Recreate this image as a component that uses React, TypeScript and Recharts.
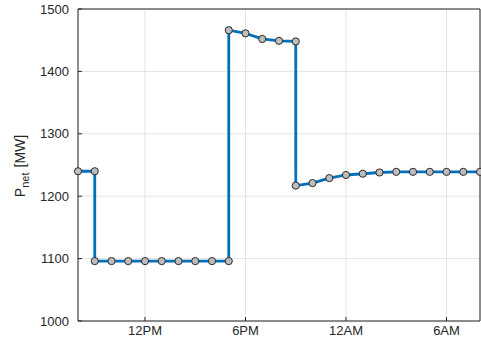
import {
  LineChart,
  Line,
  XAxis,
  YAxis,
  CartesianGrid,
  ReferenceLine,
} from "recharts";

// hours since midnight of day 1 (8 = 8AM, 32 = 8AM next day); repeated hours are the steps
const hours = [
  8, 9, 9, 10, 11, 12, 13, 14, 15, 16, 17, 17, 18, 19, 20, 21, 21, 22, 23, 24,
  25, 26, 27, 28, 29, 30, 31, 32,
];
const pnet = [
  1240, 1240, 1096, 1096, 1096, 1096, 1096, 1096, 1096, 1096, 1096, 1466, 1461,
  1452, 1449, 1448, 1217, 1221, 1229, 1234, 1236, 1238, 1239, 1239, 1239, 1239,
  1239, 1239,
];

const xTicks = [12, 18, 24, 30];
const xTickLabels = ["12PM", "6PM", "12AM", "6AM"];
const yTicks = [1000, 1100, 1200, 1300, 1400, 1500];

const data = hours.map((h, i) => ({ h, p: pnet[i] }));

const font = "'Liberation Sans', Arial, sans-serif";
const axisColor = "#262626";

const YLabel = () => (
  <text
    transform="translate(25,166) rotate(-90)"
    textAnchor="middle"
    fill={axisColor}
    fontFamily={font}
    fontSize={14}
  >
    <tspan>P</tspan>
    <tspan fontSize={11} dy={4}>
      net
    </tspan>
    <tspan dy={-4} dx={5}>
      [MW]
    </tspan>
  </text>
);

const App = () => {
  return (
    <div style={{ position: "absolute", left: 0, top: 0, background: "#fff" }}>
      <LineChart
        width={481}
        height={341}
        data={data}
        margin={{ top: 9, right: 1, left: 0, bottom: 0 }}
      >
        <CartesianGrid stroke="#e3e3e3" />
        <XAxis
          dataKey="h"
          type="number"
          domain={[8, 32]}
          ticks={xTicks}
          tickFormatter={(v: number) => xTickLabels[xTicks.indexOf(v)]}
          height={20}
          tickLine={{ stroke: axisColor }}
          tickSize={-4}
          tickMargin={9}
          axisLine={{ stroke: axisColor }}
          tick={{ fill: axisColor, fontFamily: font, fontSize: 13 }}
        />
        <YAxis
          type="number"
          domain={[1000, 1500]}
          ticks={yTicks}
          width={78}
          tickLine={{ stroke: axisColor }}
          tickSize={-4}
          tickMargin={13}
          axisLine={{ stroke: axisColor }}
          tick={{ fill: axisColor, fontFamily: font, fontSize: 13 }}
          label={<YLabel />}
        />
        <ReferenceLine y={1500} stroke={axisColor} />
        <ReferenceLine x={32} stroke={axisColor} />
        <Line
          type="linear"
          dataKey="p"
          stroke="#0072BD"
          strokeWidth={2.8}
          dot={{ r: 3.6, fill: "#bdbdbd", stroke: "#2a2a2a", strokeWidth: 1 }}
          isAnimationActive={false}
        />
      </LineChart>
    </div>
  );
};

export default App;
